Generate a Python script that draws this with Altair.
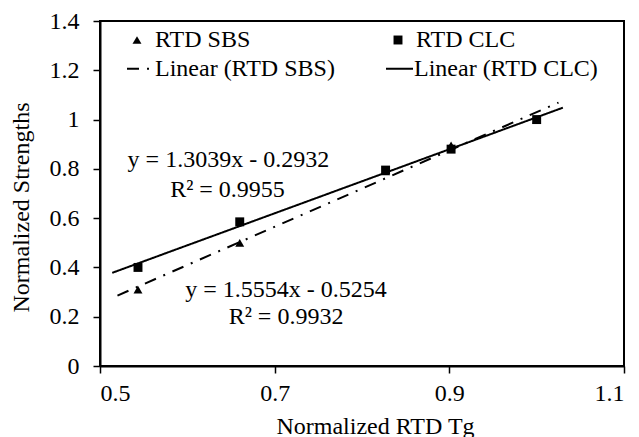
import altair as alt
import pandas as pd

# ---- data ----
tg = [0.5435, 0.66, 0.827, 0.902, 1.0]
sbs = [0.31, 0.50, 0.79, 0.895, 1.0]
clc = [0.40, 0.585, 0.795, 0.88, 1.0]
series_names = ["RTD SBS", "RTD CLC"]
trend_names = ["Linear (RTD SBS)", "Linear (RTD CLC)"]
extent_sbs = [0.52, 1.025]
extent_clc = [0.514, 1.03]
x_ticks = [0.5, 0.7, 0.9, 1.1]
y_ticks = [0, 0.2, 0.4, 0.6, 0.8, 1.0, 1.2, 1.4]
ann_text = ["y = 1.3039x - 0.2932", "R² = 0.9955", "y = 1.5554x - 0.5254", "R² = 0.9932"]
ann_x = [0.647, 0.646, 0.713, 0.713]
ann_y = [0.836, 0.714, 0.308, 0.199]

FONT = "Liberation Serif"

points = pd.DataFrame(
    {"x": tg + tg, "y": sbs + clc,
     "series": [series_names[0]] * len(tg) + [series_names[1]] * len(tg)}
)
ann = pd.DataFrame({"x": ann_x, "y": ann_y, "t": ann_text})

xscale = alt.Scale(domain=[0.5, 1.1], nice=False, zero=False)
yscale = alt.Scale(domain=[0, 1.4], nice=False)

xaxis = alt.Axis(values=x_ticks, format="~g", title="Normalized RTD Tg",
                 titleX=275, titleY=67, titleBaseline="alphabetic", titleAlign="center",
                 labelPadding=8)
yaxis = alt.Axis(values=y_ticks, format="~g", title="Normalized  Strengths",
                 titleX=-79, titleY=186, titleAngle=270, titleBaseline="middle",
                 titleAlign="center", labelPadding=14)

X = alt.X("x:Q", scale=xscale, axis=xaxis)
Y = alt.Y("y:Q", scale=yscale, axis=yaxis)

dash_legend = alt.Legend(
    orient="none", legendX=26, legendY=33, columns=2, columnPadding=47, title=None,
    labelFont=FONT, labelFontSize=24, labelColor="black", labelOffset=0,
    symbolType="stroke", symbolSize=729, symbolStrokeWidth=2, symbolStrokeColor="black",
    padding=0, labelLimit=400,
)
dash_scale = alt.Scale(domain=trend_names, range=[[12, 8, 2, 8], [1, 0]])


def trend(name, tname, extent):
    return (
        alt.Chart(points)
        .transform_filter(alt.datum.series == name)
        .transform_regression("x", "y", extent=extent)
        .transform_calculate(trend=f'"{tname}"')
        .mark_line(color="black", strokeWidth=2)
        .encode(x=X, y=Y,
                strokeDash=alt.StrokeDash("trend:N", scale=dash_scale, legend=dash_legend))
    )


lines = trend(series_names[0], trend_names[0], extent_sbs) + trend(series_names[1], trend_names[1], extent_clc)

pts = alt.Chart(points).mark_point(filled=True, size=80, color="black", opacity=1).encode(
    x=X, y=Y,
    shape=alt.Shape("series:N",
                    scale=alt.Scale(domain=series_names, range=["triangle-up", "square"]),
                    legend=alt.Legend(orient="none", legendX=25, legendY=7, columns=2,
                                      columnPadding=135, title=None, labelFont=FONT,
                                      labelFontSize=24, labelColor="black", labelOffset=6,
                                      symbolSize=80, symbolFillColor="black",
                                      symbolStrokeColor="black", padding=0, labelLimit=400)),
)

texts = alt.Chart(ann).mark_text(font=FONT, fontSize=24, color="black",
                                 align="center", baseline="middle").encode(
    x=alt.X("x:Q", scale=xscale), y=alt.Y("y:Q", scale=yscale), text="t:N")

chart = (
    alt.layer(lines, pts, texts)
    .resolve_scale(strokeDash="shared")
    .properties(width=524, height=345, background="white",
                autosize=alt.AutoSizeParams(type="none"),
                padding={"left": 100, "top": 21, "right": 15, "bottom": 71})
    .configure_view(stroke="black", strokeWidth=2)
    .configure_axis(
        grid=False, domainColor="black", domainWidth=2, tickColor="black", tickWidth=1.5,
        tickSize=7, labelFont=FONT, labelFontSize=24, labelColor="black",
        titleFont=FONT, titleFontSize=24, titleColor="black", titleFontWeight="normal",
    )
)

chart.save("out.html", embed_options={"renderer": "svg", "actions": False})
